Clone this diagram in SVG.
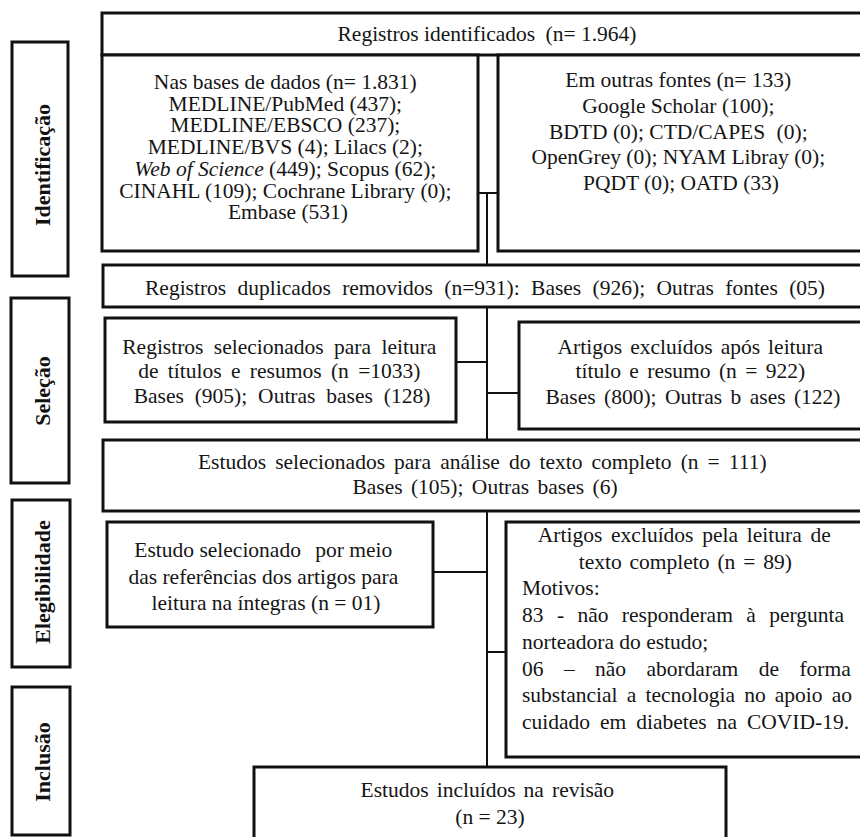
<svg xmlns="http://www.w3.org/2000/svg" width="860" height="837" viewBox="0 0 860 837">
<style>
.box{fill:#fff;stroke:#111;stroke-width:3}
.t{font-family:"Liberation Serif","Times New Roman",serif;font-size:21.5px;fill:#151515}
.c{text-anchor:middle}
.lb{font-family:"Liberation Serif","Times New Roman",serif;font-size:22px;font-weight:bold;fill:#111;text-anchor:middle}
.conn line{stroke:#111;stroke-width:2}
</style>
<rect x="0" y="0" width="860" height="837" fill="#fff"/>

<g id="lbl-identificacao"><rect class="box" x="12" y="42" width="56" height="234"/><text class="lb" transform="translate(50,165) rotate(-90)">Identificação</text></g>
<g id="lbl-selecao"><rect class="box" x="11" y="298" width="58" height="185"/><text class="lb" transform="translate(50,391) rotate(-90)">Seleção</text></g>
<g id="lbl-elegibilidade"><rect class="box" x="12" y="500" width="58" height="167"/><text class="lb" transform="translate(50,582) rotate(-90)">Elegibilidade</text></g>
<g id="lbl-inclusao"><rect class="box" x="12" y="687" width="58" height="148"/><text class="lb" transform="translate(50,762) rotate(-90)">Inclusão</text></g>

<g class="conn" id="connectors">
<line x1="478" y1="193" x2="498" y2="193"/>
<line x1="487" y1="193" x2="487" y2="265"/>
<line x1="487" y1="307" x2="487" y2="440"/>
<line x1="456" y1="362" x2="487" y2="362"/>
<line x1="487" y1="393" x2="519" y2="393"/>
<line x1="487" y1="511" x2="487" y2="767"/>
<line x1="433" y1="572" x2="487" y2="572"/>
<line x1="487" y1="652" x2="506" y2="652"/>
</g>

<g id="n-identificados"><rect class="box" x="102" y="13" width="770" height="42"/><text class="t c" x="487" y="41">Registros identificados <tspan dx="5">(n= 1.964)</tspan></text></g>

<g id="n-bases"><rect class="box" x="102" y="55" width="376" height="196"/>
<text class="t c">
<tspan x="288" y="89">Nas bases de dados (n= 1.831)</tspan>
<tspan x="288" y="110.7">MEDLINE/PubMed (437);</tspan>
<tspan x="288" y="132.4">MEDLINE/EBSCO (237);</tspan>
<tspan x="288" y="154.1">MEDLINE/BVS (4); Lilacs (2);</tspan>
<tspan x="288" y="175.8"><tspan font-style="italic">Web of Science</tspan> (449); Scopus (62);</tspan>
<tspan x="288" y="197.5">CINAHL (109); Cochrane Library (0);</tspan>
<tspan x="288" y="219.2">Embase (531)</tspan>
</text></g>

<g id="n-outras"><rect class="box" x="498" y="55" width="374" height="196"/>
<text class="t c">
<tspan x="681" y="87">Em outras fontes (n= 133)</tspan>
<tspan x="681" y="112.8">Google Scholar (100);</tspan>
<tspan x="681" y="138.6">BDTD (0); CTD/CAPES <tspan dx="6">(0);</tspan></tspan>
<tspan x="681" y="164.4">OpenGrey (0); NYAM Libray (0);</tspan>
<tspan x="681" y="190">PQDT (0); OATD (33)</tspan>
</text></g>

<g id="n-duplicados"><rect class="box" x="103" y="265" width="769" height="42"/><text class="t c" x="485" y="295" word-spacing="6">Registros duplicados removidos (n=931): Bases (926); Outras fontes (05)</text></g>

<g id="n-selecionados"><rect class="box" x="105" y="318" width="351" height="104"/>
<text class="t c">
<tspan x="282" y="354" word-spacing="5">Registros selecionados para leitura</tspan>
<tspan x="282" y="378" word-spacing="4">de títulos e resumos (n =1033)</tspan>
<tspan x="282" y="403" word-spacing="5.5">Bases (905); Outras bases (128)</tspan>
</text></g>

<g id="n-excluidos1"><rect class="box" x="519" y="322" width="353" height="107"/>
<text class="t c">
<tspan x="693" y="354" word-spacing="2.7">Artigos excluídos após leitura</tspan>
<tspan x="693" y="378" word-spacing="3">título e resumo (n = 922)</tspan>
<tspan x="693" y="404" word-spacing="3">Bases (800); Outras b ases (122)</tspan>
</text></g>

<g id="n-texto-completo"><rect class="box" x="103" y="440" width="769" height="71"/>
<text class="t c">
<tspan x="485" y="469" word-spacing="3.7">Estudos selecionados para análise do texto completo (n = 111)</tspan>
<tspan x="485" y="494" word-spacing="3">Bases (105); Outras bases (6)</tspan>
</text></g>

<g id="n-referencias"><rect class="box" x="107" y="522" width="326" height="105"/>
<text class="t c">
<tspan x="266" y="557">Estudo selecionado <tspan dx="9">por meio</tspan></tspan>
<tspan x="266" y="584">das referências dos artigos para</tspan>
<tspan x="266" y="610">leitura na íntegras (n = 01)</tspan>
</text></g>

<g id="n-excluidos2"><rect class="box" x="506" y="522" width="366" height="235"/>
<text class="t">
<tspan class="c" x="687" y="542" word-spacing="3.4">Artigos excluídos pela leitura de</tspan>
<tspan class="c" x="688" y="568.7" word-spacing="2.5">texto completo (n = 89)</tspan>
<tspan x="522" y="595.4">Motivos:</tspan>
<tspan x="522" y="622.1" word-spacing="8">83 - não responderam à pergunta</tspan>
<tspan x="522" y="648.8">norteadora do estudo;</tspan>
<tspan x="522" y="675.5" word-spacing="15">06 – não abordaram de forma</tspan>
<tspan x="522" y="702.2" word-spacing="3.8">substancial a tecnologia no apoio ao</tspan>
<tspan x="522" y="729" word-spacing="4.6">cuidado em diabetes na COVID-19.</tspan>
</text></g>

<g id="n-incluidos"><rect class="box" x="254" y="767" width="472" height="85"/>
<text class="t c">
<tspan x="490" y="797" word-spacing="2.7">Estudos incluídos na revisão</tspan>
<tspan x="490" y="824">(n = 23)</tspan>
</text></g>
</svg>
